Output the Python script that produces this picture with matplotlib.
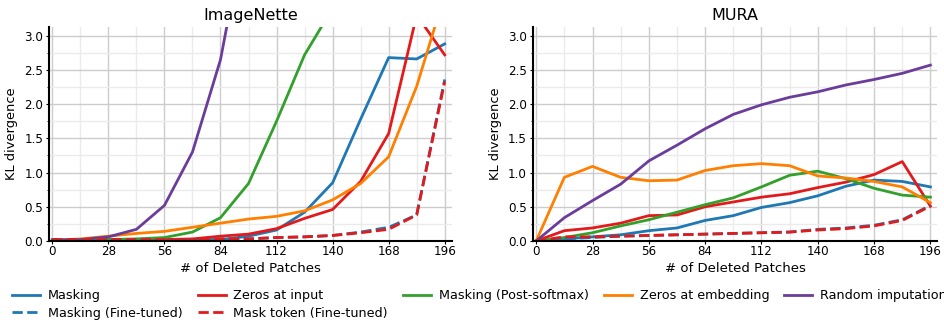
import numpy as np
import matplotlib
matplotlib.use("Agg")
import matplotlib.pyplot as plt
from matplotlib.ticker import MultipleLocator

deleted = [0, 14, 28, 42, 56, 70, 84, 98, 112, 126, 140, 154, 168, 182, 196]

# ImageNette
in_masking = [0.02, 0.02, 0.02, 0.02, 0.02, 0.02, 0.02, 0.07, 0.16, 0.42, 0.85, 1.78, 2.68, 2.66, 2.88]
in_zeros_input = [0.01, 0.01, 0.01, 0.01, 0.02, 0.03, 0.07, 0.10, 0.18, 0.33, 0.46, 0.87, 1.57, 3.30, 2.72]
in_post_softmax = [0.01, 0.01, 0.02, 0.03, 0.05, 0.13, 0.34, 0.84, 1.75, 2.72, 3.40, 3.80, 4.10, 4.30, 4.50]
in_zeros_embed = [0.01, 0.03, 0.07, 0.11, 0.14, 0.20, 0.26, 0.32, 0.36, 0.44, 0.60, 0.84, 1.23, 2.26, 3.60]
in_random = [0.01, 0.02, 0.06, 0.17, 0.52, 1.30, 2.65, 4.80, 5.50, 6.00, 6.30, 6.50, 6.60, 6.70, 6.80]
in_masking_ft = [0.02, 0.02, 0.02, 0.02, 0.02, 0.02, 0.03, 0.03, 0.05, 0.06, 0.08, 0.13, 0.20, 0.38, 2.36]
in_mask_token_ft = [0.02, 0.02, 0.02, 0.02, 0.02, 0.02, 0.03, 0.03, 0.05, 0.06, 0.08, 0.12, 0.17, 0.38, 2.33]

# MURA
mu_masking = [0.0, 0.03, 0.06, 0.09, 0.15, 0.19, 0.30, 0.37, 0.49, 0.56, 0.66, 0.80, 0.89, 0.87, 0.79]
mu_zeros_input = [0.0, 0.15, 0.19, 0.26, 0.37, 0.38, 0.50, 0.57, 0.64, 0.69, 0.78, 0.86, 0.97, 1.16, 0.51]
mu_post_softmax = [0.0, 0.05, 0.12, 0.22, 0.31, 0.42, 0.53, 0.63, 0.79, 0.96, 1.02, 0.91, 0.77, 0.67, 0.64]
mu_zeros_embed = [0.0, 0.93, 1.09, 0.93, 0.88, 0.89, 1.03, 1.10, 1.13, 1.10, 0.95, 0.92, 0.87, 0.79, 0.56]
mu_random = [0.0, 0.34, 0.59, 0.83, 1.17, 1.40, 1.64, 1.85, 1.99, 2.10, 2.18, 2.28, 2.36, 2.45, 2.57]
mu_masking_ft = [0.0, 0.03, 0.05, 0.07, 0.08, 0.09, 0.10, 0.11, 0.12, 0.13, 0.17, 0.19, 0.23, 0.31, 0.52]
mu_mask_token_ft = [0.0, 0.06, 0.06, 0.07, 0.08, 0.09, 0.10, 0.11, 0.12, 0.13, 0.16, 0.18, 0.22, 0.30, 0.51]

labels = ["Masking", "Zeros at input", "Masking (Post-softmax)",
          "Zeros at embedding", "Random imputation",
          "Masking (Fine-tuned)", "Mask token (Fine-tuned)"]
colors = ["#1f78b4", "#e31a1c", "#33a02c", "#ff7f00", "#6a3d9a", "#1f78b4", "#e31a1c"]
styles = ["-", "-", "-", "-", "-", "--", "--"]

panels = [
    ("ImageNette", [in_masking, in_zeros_input, in_post_softmax, in_zeros_embed,
                    in_random, in_masking_ft, in_mask_token_ft]),
    ("MURA", [mu_masking, mu_zeros_input, mu_post_softmax, mu_zeros_embed,
              mu_random, mu_masking_ft, mu_mask_token_ft]),
]

fig = plt.figure(figsize=(9.45, 3.23), dpi=100)
axes = [fig.add_axes([0.052, 0.254, 0.426, 0.663]),
        fig.add_axes([0.564, 0.254, 0.428, 0.663])]

handles = {}
for ax, (title, series) in zip(axes, panels):
    for vals, lab, col, ls in zip(series, labels, colors, styles):
        ln, = ax.plot(deleted, vals, color=col, linestyle=ls, linewidth=2, label=lab)
        handles[lab] = ln
    ax.set_title(title, fontsize=11.5, pad=5)
    ax.set_xlim(-1.6, 199.5)
    ax.set_ylim(0, 3.13)
    ax.xaxis.set_major_locator(MultipleLocator(28))
    ax.xaxis.set_minor_locator(MultipleLocator(14))
    ax.yaxis.set_major_locator(MultipleLocator(0.5))
    ax.yaxis.set_minor_locator(MultipleLocator(0.25))
    ax.grid(which="major", color="#cccccc", linewidth=1)
    ax.grid(which="minor", color="#ebebeb", linewidth=1)
    ax.set_axisbelow(True)
    for s in ("top", "right"):
        ax.spines[s].set_visible(False)
    for s in ("left", "bottom"):
        ax.spines[s].set_linewidth(1.5)
    ax.tick_params(axis="x", which="major", labelsize=8.6, length=2, pad=0.8)
    ax.tick_params(axis="y", which="major", labelsize=8.6, length=2, pad=2.3)
    ax.tick_params(axis="y", which="minor", length=1.5)
    ax.tick_params(axis="x", which="minor", length=0)
    ax.set_xlabel("# of Deleted Patches", fontsize=9.5, labelpad=3)
    ax.set_ylabel("KL divergence", fontsize=9.4, labelpad=4.3)

order = ["Masking", "Masking (Fine-tuned)", "Zeros at input", "Mask token (Fine-tuned)",
         "Masking (Post-softmax)", "Zeros at embedding", "Random imputation"]
fig.legend([handles[k] for k in order], order, loc="lower center", ncol=5,
           bbox_to_anchor=(0.5074, -0.026), frameon=False, fontsize=9.2,
           handlelength=2.2, columnspacing=1.18, handletextpad=0.6,
           labelspacing=0.35)

fig.savefig("out.png", dpi=100)
